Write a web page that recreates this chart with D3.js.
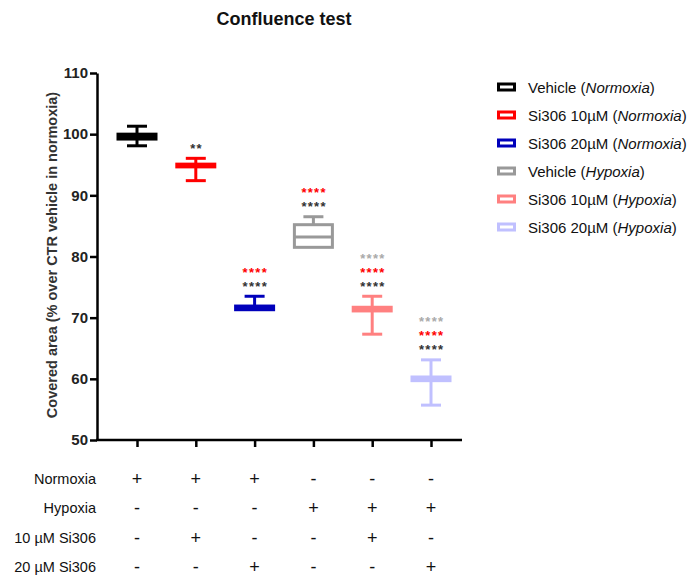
<!DOCTYPE html>
<html>
<head>
<meta charset="utf-8">
<script src="https://cdn.jsdelivr.net/npm/d3@7/dist/d3.min.js"></script>
<style>
  html, body { margin: 0; padding: 0; background: #fff; }
  svg { display: block; font-family: "Liberation Sans", Arial, sans-serif; }
</style>
</head>
<body>
<svg id="chart" width="689" height="580"></svg>
<script>
// Groups and box-plot summaries (% over CTR vehicle in normoxia)
const groups = ["Vehicle", "Si306 10µM", "Si306 20µM", "Vehicle", "Si306 10µM", "Si306 20µM"];
const conditions = ["Normoxia", "Normoxia", "Normoxia", "Hypoxia", "Hypoxia", "Hypoxia"];
const colors = ["#000000", "#ff0000", "#0000bb", "#999999", "#ff8080", "#c0c0ff"];
const mins    = [98.1, 92.4, 71.3, 81.5, 67.3, 55.7];
const q1s     = [99.2, 94.65, 71.3, 81.5, 71.1, 59.7];
const medians = [99.6, 94.85, 71.6, 83.2, 71.4, 60.0];
const q3s     = [100.0, 95.1, 71.9, 85.2, 71.7, 60.3];
const maxs    = [101.3, 96.05, 73.5, 86.5, 73.5, 63.1];

// Significance marks stacked above each box
const sigVsVehicleN = ["", "**", "****", "****", "****", "****"];
const sigVs10N      = ["", "", "****", "****", "****", "****"];
const sigVsVehicleH = ["", "", "", "", "****", "****"];
const sigColors = ["#333333", "#ff0000", "#aaaaaa"];

// Treatment table under the axis
const tableRows = ["Normoxia", "Hypoxia", "10 µM Si306", "20 µM Si306"];
const tableSigns = [
  ["+", "+", "+", "-", "-", "-"],
  ["-", "-", "-", "+", "+", "+"],
  ["-", "+", "-", "-", "+", "-"],
  ["-", "-", "+", "-", "-", "+"]
];

const yTicks = [50, 60, 70, 80, 90, 100, 110];

const svg = d3.select("#chart");
const ids = d3.range(groups.length);

const y = d3.scaleLinear().domain([50, 110]).range([440, 73]);
const x = d3.scalePoint().domain(ids).range([137, 431]);

const boxW = 41, capW = 20, sw = 3;

// Title
svg.append("text")
  .attr("x", 284).attr("y", 25)
  .attr("text-anchor", "middle")
  .attr("font-size", 18).attr("font-weight", "bold")
  .attr("fill", "#111")
  .text("Confluence test");

// Y axis
const yAxis = svg.append("g")
  .attr("transform", "translate(97,0)")
  .call(d3.axisLeft(y).tickValues(yTicks).tickSize(7).tickSizeOuter(0).tickPadding(2));
yAxis.select(".domain").attr("stroke-width", 2.5).attr("stroke", "#000");
yAxis.selectAll(".tick line").attr("stroke-width", 2.5).attr("stroke", "#000");
yAxis.selectAll(".tick text")
  .attr("font-size", 15).attr("font-weight", "bold")
  .attr("font-family", "'Liberation Sans', Arial, sans-serif")
  .attr("fill", "#222");

// Y axis title
svg.append("text")
  .attr("transform", "translate(57,255) rotate(-90)")
  .attr("text-anchor", "middle")
  .attr("font-size", 14.5).attr("font-weight", "bold")
  .attr("fill", "#333")
  .text("Covered area (% over CTR vehicle in normoxia)");

// X axis: baseline plus one tick per group
svg.append("line")
  .attr("x1", 96).attr("x2", 462)
  .attr("y1", 440).attr("y2", 440)
  .attr("stroke", "#000").attr("stroke-width", 2.5);
const xAxis = svg.append("g")
  .attr("transform", "translate(0,440)")
  .call(d3.axisBottom(x).tickSize(7).tickSizeOuter(0).tickFormat(""));
xAxis.select(".domain").remove();
xAxis.selectAll(".tick line").attr("stroke-width", 2.5).attr("stroke", "#000");

// Box plots
const box = svg.append("g").selectAll("g").data(ids).join("g")
  .attr("stroke", i => colors[i])
  .attr("stroke-width", sw)
  .attr("fill", "none");

box.append("line") // upper whisker
  .attr("x1", i => x(i)).attr("x2", i => x(i))
  .attr("y1", i => y(maxs[i])).attr("y2", i => y(q3s[i]));
box.append("line") // lower whisker
  .attr("x1", i => x(i)).attr("x2", i => x(i))
  .attr("y1", i => y(q1s[i])).attr("y2", i => y(mins[i]));
box.append("line") // max cap
  .attr("x1", i => x(i) - capW / 2).attr("x2", i => x(i) + capW / 2)
  .attr("y1", i => y(maxs[i])).attr("y2", i => y(maxs[i]));
box.append("line") // min cap
  .filter(i => mins[i] < q1s[i])
  .attr("x1", i => x(i) - capW / 2).attr("x2", i => x(i) + capW / 2)
  .attr("y1", i => y(mins[i])).attr("y2", i => y(mins[i]));
box.append("rect")
  .attr("x", i => x(i) - boxW / 2 + sw / 2)
  .attr("width", boxW - sw)
  .attr("y", i => y(q3s[i]))
  .attr("height", i => Math.max(0.5, y(q1s[i]) - y(q3s[i])))
  .attr("fill", "#fff");
box.append("line") // median
  .attr("x1", i => x(i) - boxW / 2 + sw / 2).attr("x2", i => x(i) + boxW / 2 - sw / 2)
  .attr("y1", i => y(medians[i])).attr("y2", i => y(medians[i]));

// Significance asterisks above each upper cap
const sigLayers = [sigVsVehicleN, sigVs10N, sigVsVehicleH];
sigLayers.forEach((layer, k) => {
  svg.append("g").selectAll("text")
    .data(ids.filter(i => layer[i] !== ""))
    .join("text")
    .attr("x", i => x(i) + 0.7)
    .attr("y", i => y(maxs[i]) - 13 - 14 * k + 7.5)
    .attr("text-anchor", "middle")
    .attr("font-size", 13).attr("font-weight", "bold")
    .attr("letter-spacing", 1.3)
    .attr("fill", sigColors[k])
    .text(i => layer[i]);
});

// Treatment table
const rowY = d3.scalePoint().domain(d3.range(tableRows.length)).range([479, 567]);
const rows = svg.append("g").selectAll("g").data(d3.range(tableRows.length)).join("g");
rows.append("text")
  .attr("x", 96).attr("y", r => rowY(r) + 5)
  .attr("text-anchor", "end")
  .attr("font-size", 14.5).attr("fill", "#111")
  .text(r => tableRows[r]);
rows.selectAll(".sign").data(r => tableSigns[r].map((s, i) => ({ s, i, r })))
  .join("text")
  .attr("class", "sign")
  .attr("x", d => x(d.i)).attr("y", d => rowY(d.r) + 6)
  .attr("text-anchor", "middle")
  .attr("font-size", 18).attr("fill", "#111")
  .text(d => d.s);

// Legend
const legY = d3.scalePoint().domain(ids).range([87, 227]);
const leg = svg.append("g").selectAll("g").data(ids).join("g")
  .attr("transform", i => `translate(0,${legY(i)})`);
leg.append("rect")
  .attr("x", 498.5).attr("y", -3).attr("width", 16).attr("height", 6)
  .attr("fill", "#fff").attr("stroke", i => colors[i]).attr("stroke-width", 3);
const lt = leg.append("text")
  .attr("x", 528).attr("y", 5.5)
  .attr("font-size", 15).attr("fill", "#111");
lt.append("tspan").text(i => groups[i] + " (");
lt.append("tspan").attr("font-style", "italic").text(i => conditions[i]);
lt.append("tspan").text(")");
</script>
</body>
</html>
